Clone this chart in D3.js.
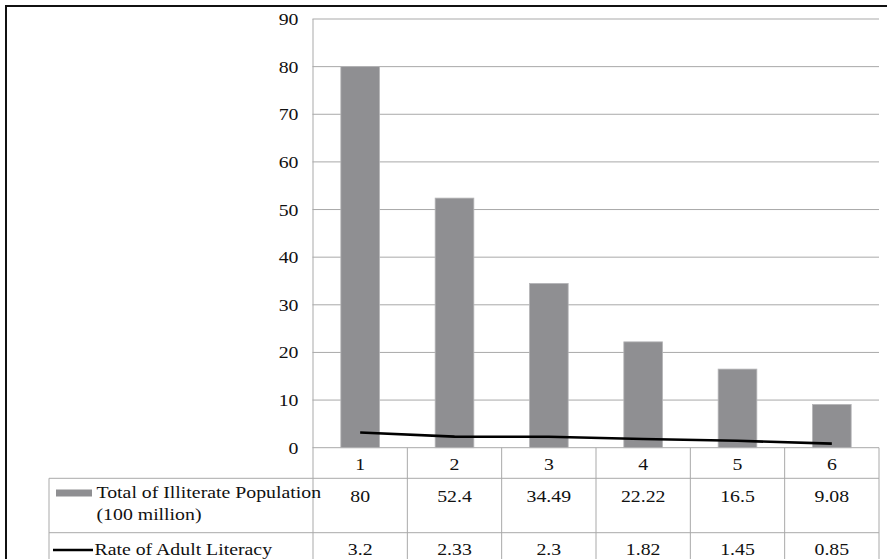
<!DOCTYPE html>
<html>
<head>
<meta charset="utf-8">
<script src="https://cdn.jsdelivr.net/npm/d3@7"></script>
<style>
  html, body { margin: 0; padding: 0; background: #fff; }
  svg { display: block; }
  text { font-family: "Liberation Serif", "Times New Roman", serif; fill: #111; }
</style>
</head>
<body>
<svg id="chart" width="887" height="559"></svg>
<script>
// Categories along the x axis
const categories = ["1", "2", "3", "4", "5", "6"];
// Total of illiterate population (100 million)
const illiterate = [80, 52.4, 34.49, 22.22, 16.5, 9.08];
// Rate of adult literacy
const literacy = [3.2, 2.33, 2.3, 1.82, 1.45, 0.85];
// Y axis ticks
const yTicks = [0, 10, 20, 30, 40, 50, 60, 70, 80, 90];
// Legend / row labels of the data table
const barLabel = ["Total of Illiterate Population", "(100 million)"];
const lineLabel = "Rate of Adult Literacy";

const svg = d3.select("#chart");
const W = 887, H = 559;

const plotLeft = 313, plotRight = 879, plotTop = 19, plotBottom = 447.7;
const tableLeft = 49, row1Bottom = 478.3, row2Bottom = 532.7;
const gridColor = "#a9a9a9";
const barColor = "#8f8f92";
const fontSize = 16.5;
const stretch = 1.2; // wide book-style lettering

// text helper: places a horizontally widened label at (px, py)
function label(parent, px, py, str, anchor) {
  return parent.append("text")
    .attr("transform", `translate(${px},${py}) scale(${stretch},1)`)
    .attr("text-anchor", anchor || "start")
    .attr("font-size", fontSize)
    .text(str);
}

const x = d3.scaleBand().domain(categories).range([plotLeft, plotRight]).padding(0);
const y = d3.scaleLinear().domain([0, 90]).range([plotBottom, plotTop]);
const cx = i => x(categories[i]) + x.bandwidth() / 2;

// outer frame
svg.append("rect")
  .attr("x", 6).attr("y", 6).attr("width", W + 10).attr("height", H + 10)
  .attr("fill", "none").attr("stroke", "#111").attr("stroke-width", 2);

// horizontal gridlines
svg.append("g").selectAll("line").data(yTicks).join("line")
  .attr("x1", plotLeft - 0.5).attr("x2", plotRight)
  .attr("y1", d => y(d)).attr("y2", d => y(d))
  .attr("stroke", gridColor).attr("stroke-width", 1);

// y axis labels
const yG = svg.append("g");
yTicks.forEach(t => label(yG, 298.5, y(t) + 6, String(t), "end"));

// bars
const barW = x.bandwidth() * 0.41;
svg.append("g").selectAll("rect").data(illiterate).join("rect")
  .attr("x", (d, i) => cx(i) - barW / 2)
  .attr("width", barW)
  .attr("y", d => y(d))
  .attr("height", d => y(0) - y(d))
  .attr("fill", barColor)
  .attr("stroke", "#b5b5b7").attr("stroke-width", 0.8);

// literacy line
const line = d3.line().x((d, i) => cx(i)).y(d => y(d));
svg.append("path").datum(literacy)
  .attr("d", line)
  .attr("fill", "none").attr("stroke", "#000").attr("stroke-width", 2.6);

// data table lines
const tbl = svg.append("g").attr("stroke", gridColor).attr("stroke-width", 1);
tbl.append("line").attr("x1", plotLeft).attr("x2", plotLeft).attr("y1", plotTop).attr("y2", H);
tbl.selectAll("line.sep").data(categories).join("line").attr("class", "sep")
  .attr("x1", d => x(d) + x.bandwidth()).attr("x2", d => x(d) + x.bandwidth())
  .attr("y1", plotBottom).attr("y2", H);
tbl.append("line").attr("x1", tableLeft).attr("x2", tableLeft).attr("y1", row1Bottom).attr("y2", H);
[row1Bottom, row2Bottom].forEach(yy => {
  tbl.append("line").attr("x1", tableLeft).attr("x2", plotRight).attr("y1", yy).attr("y2", yy);
});

// category labels and value rows
const tg = svg.append("g");
categories.forEach((c, i) => label(tg, cx(i), 469.5, c, "middle"));
illiterate.forEach((v, i) => label(tg, cx(i), 502, String(v), "middle"));
literacy.forEach((v, i) => label(tg, cx(i), 554.5, String(v), "middle"));

// legend keys and row labels
svg.append("rect").attr("x", 56).attr("y", 489.5).attr("width", 36).attr("height", 7)
  .attr("fill", barColor);
label(svg, 96.5, 498, barLabel[0]);
label(svg, 96.5, 520, barLabel[1]);
svg.append("line").attr("x1", 53).attr("x2", 93).attr("y1", 550).attr("y2", 550)
  .attr("stroke", "#000").attr("stroke-width", 2.6);
label(svg, 94.5, 555, lineLabel);
</script>
</body>
</html>
